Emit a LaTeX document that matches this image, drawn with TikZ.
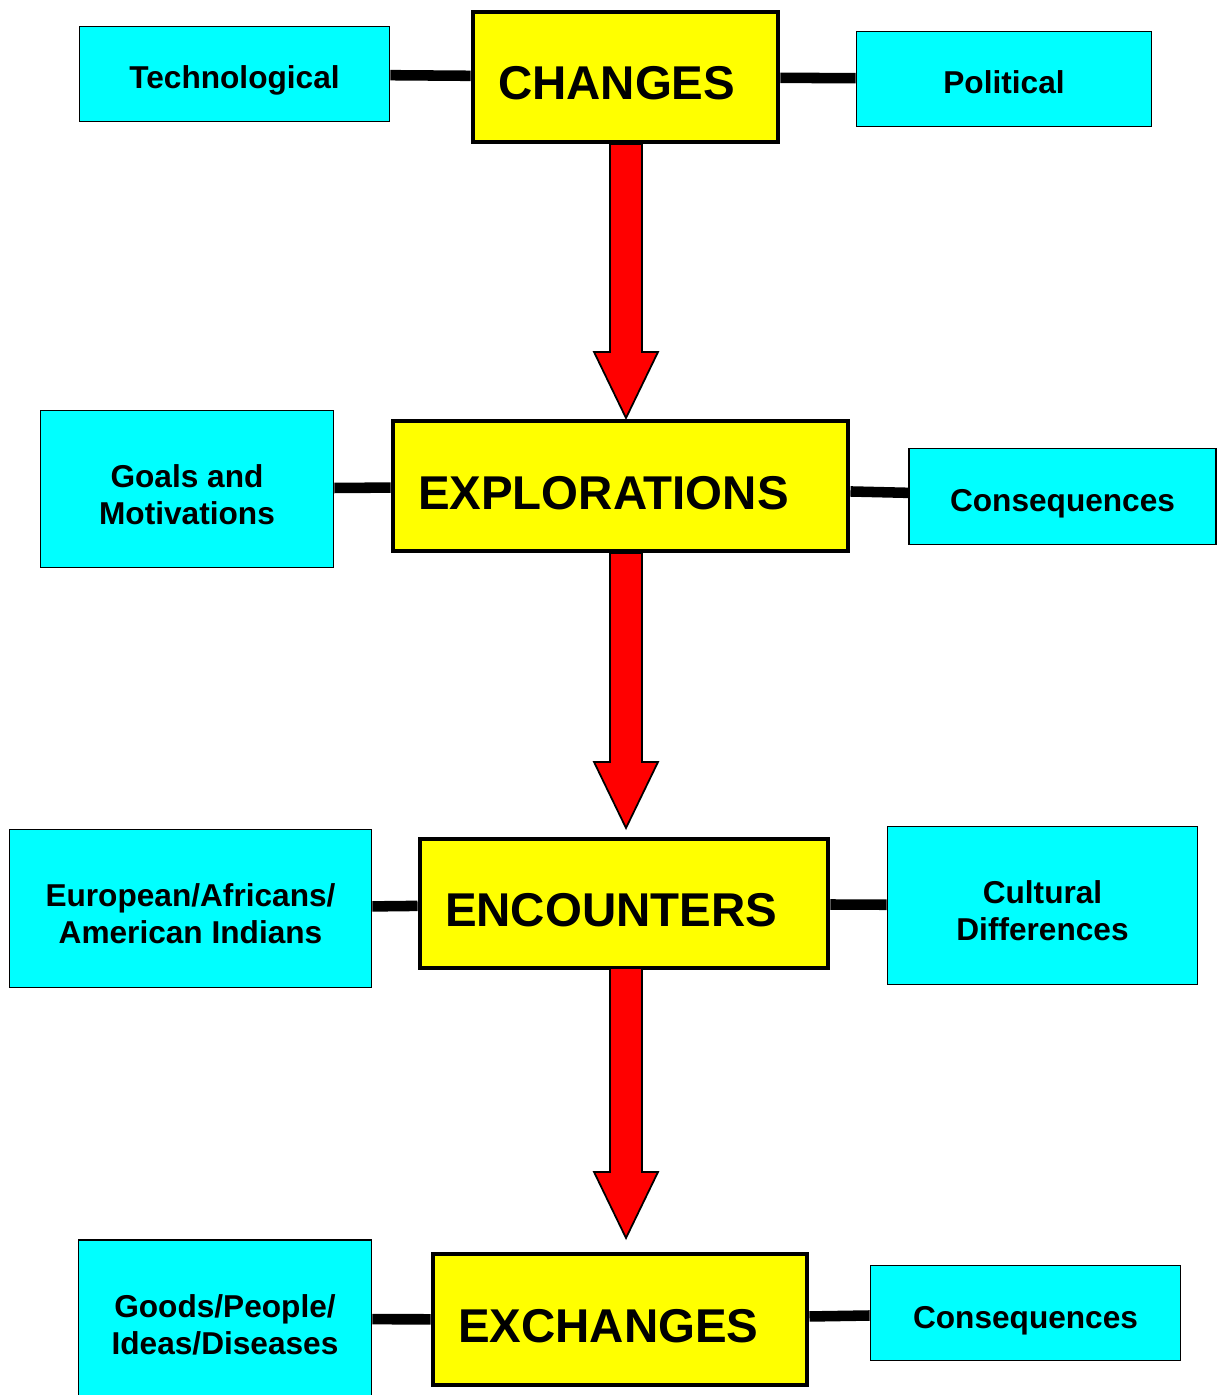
\documentclass[tikz,border=0pt]{standalone}
\usepackage{fontspec}
\setmainfont{Liberation Sans}
\usepackage{xcolor}
\usepackage{tikz}
\usetikzlibrary{calc}

\definecolor{topicyellow}{RGB}{255,255,0}
\definecolor{detailcyan}{RGB}{0,255,255}
\definecolor{flowred}{RGB}{255,0,0}

\newlength\pxu
\setlength\pxu{0.02cm}

% fat red arrow from #1 (tail) to #2 (tip)
\newcommand{\redarrow}[2]{%
  \draw[downarrow] ($(#1)+(-16,0)$) -- ($(#2)+(-16,-66)$) -- ($(#2)+(-32,-66)$)
    -- (#2) -- ($(#2)+(32,-66)$) -- ($(#2)+(16,-66)$) -- ($(#1)+(16,0)$) -- cycle;}

\begin{document}
\begin{tikzpicture}[x=\pxu, y=-\pxu,
  topic/.style={draw, fill=topicyellow, line width=2.8pt, inner xsep=25\pxu, inner ysep=0pt,
    text width=#1\pxu, text height=46\pxu, text depth=0pt, align=left,
    font=\fontsize{27}{30}\selectfont\bfseries},
  detail/.style={draw, fill=detailcyan, line width=1pt, inner sep=0pt, align=center,
    text height=30\pxu, text depth=0pt, font=\fontsize{18}{21}\selectfont\bfseries},
  twoline/.style={text height=70\pxu},
  link/.style={line width=6pt},
  downarrow/.style={draw=black, fill=flowred, line width=1pt, line join=miter}]
\useasboundingbox (0,0) rectangle (1217,1395);

% Main topics
\node[topic=255, minimum height=130\pxu] (changes) at (625.5,77) {CHANGES};
\node[topic=405, minimum height=130\pxu] (explorations) at (620.5,486) {EXPLORATIONS};
\node[topic=358, minimum height=129\pxu] (encounters) at (624,903.5) {ENCOUNTERS};
\node[topic=324, minimum height=131\pxu] (exchanges) at (620,1319.5) {EXCHANGES};

% Side boxes
\node[detail, minimum width=310\pxu, minimum height=95\pxu] (technological) at (234.5,74) {Technological};
\node[detail, minimum width=295\pxu, minimum height=95\pxu] (political) at (1004,79) {Political};
\node[detail, twoline, minimum width=293\pxu, minimum height=157\pxu] (goals) at (187,489) {Goals and\\Motivations};
\node[detail, minimum width=307\pxu, minimum height=96\pxu] (consequencesA) at (1062.5,496.5) {Consequences};
\node[detail, twoline, minimum width=362\pxu, minimum height=158\pxu] (peoples) at (190.5,908.5) {European/Africans/\\American Indians};
\node[detail, twoline, minimum width=310\pxu, minimum height=158\pxu] (cultural) at (1042.5,905.5) {Cultural\\Differences};
\node[detail, twoline, minimum width=293\pxu, minimum height=158\pxu] (goods) at (225,1319) {Goods/People/\\Ideas/Diseases};
\node[detail, minimum width=310\pxu, minimum height=95\pxu] (consequencesB) at (1025.5,1313) {Consequences};

% Links
\draw[link] (technological) -- (changes);
\draw[link] (changes) -- (political);
\draw[link] (goals) -- (explorations);
\draw[link] (explorations) -- (consequencesA);
\draw[link] (peoples) -- (encounters);
\draw[link] (encounters) -- (cultural);
\draw[link] (goods) -- (exchanges);
\draw[link] (exchanges) -- (consequencesB);

% Flow arrows
\coordinate (tail1) at (626,144);
\coordinate (tip1) at (626,418);
\coordinate (tail2) at (626,553);
\coordinate (tip2) at (626,828);
\coordinate (tail3) at (626,968);
\coordinate (tip3) at (626,1238);
\redarrow{tail1}{tip1}
\redarrow{tail2}{tip2}
\redarrow{tail3}{tip3}
\end{tikzpicture}
\end{document}
